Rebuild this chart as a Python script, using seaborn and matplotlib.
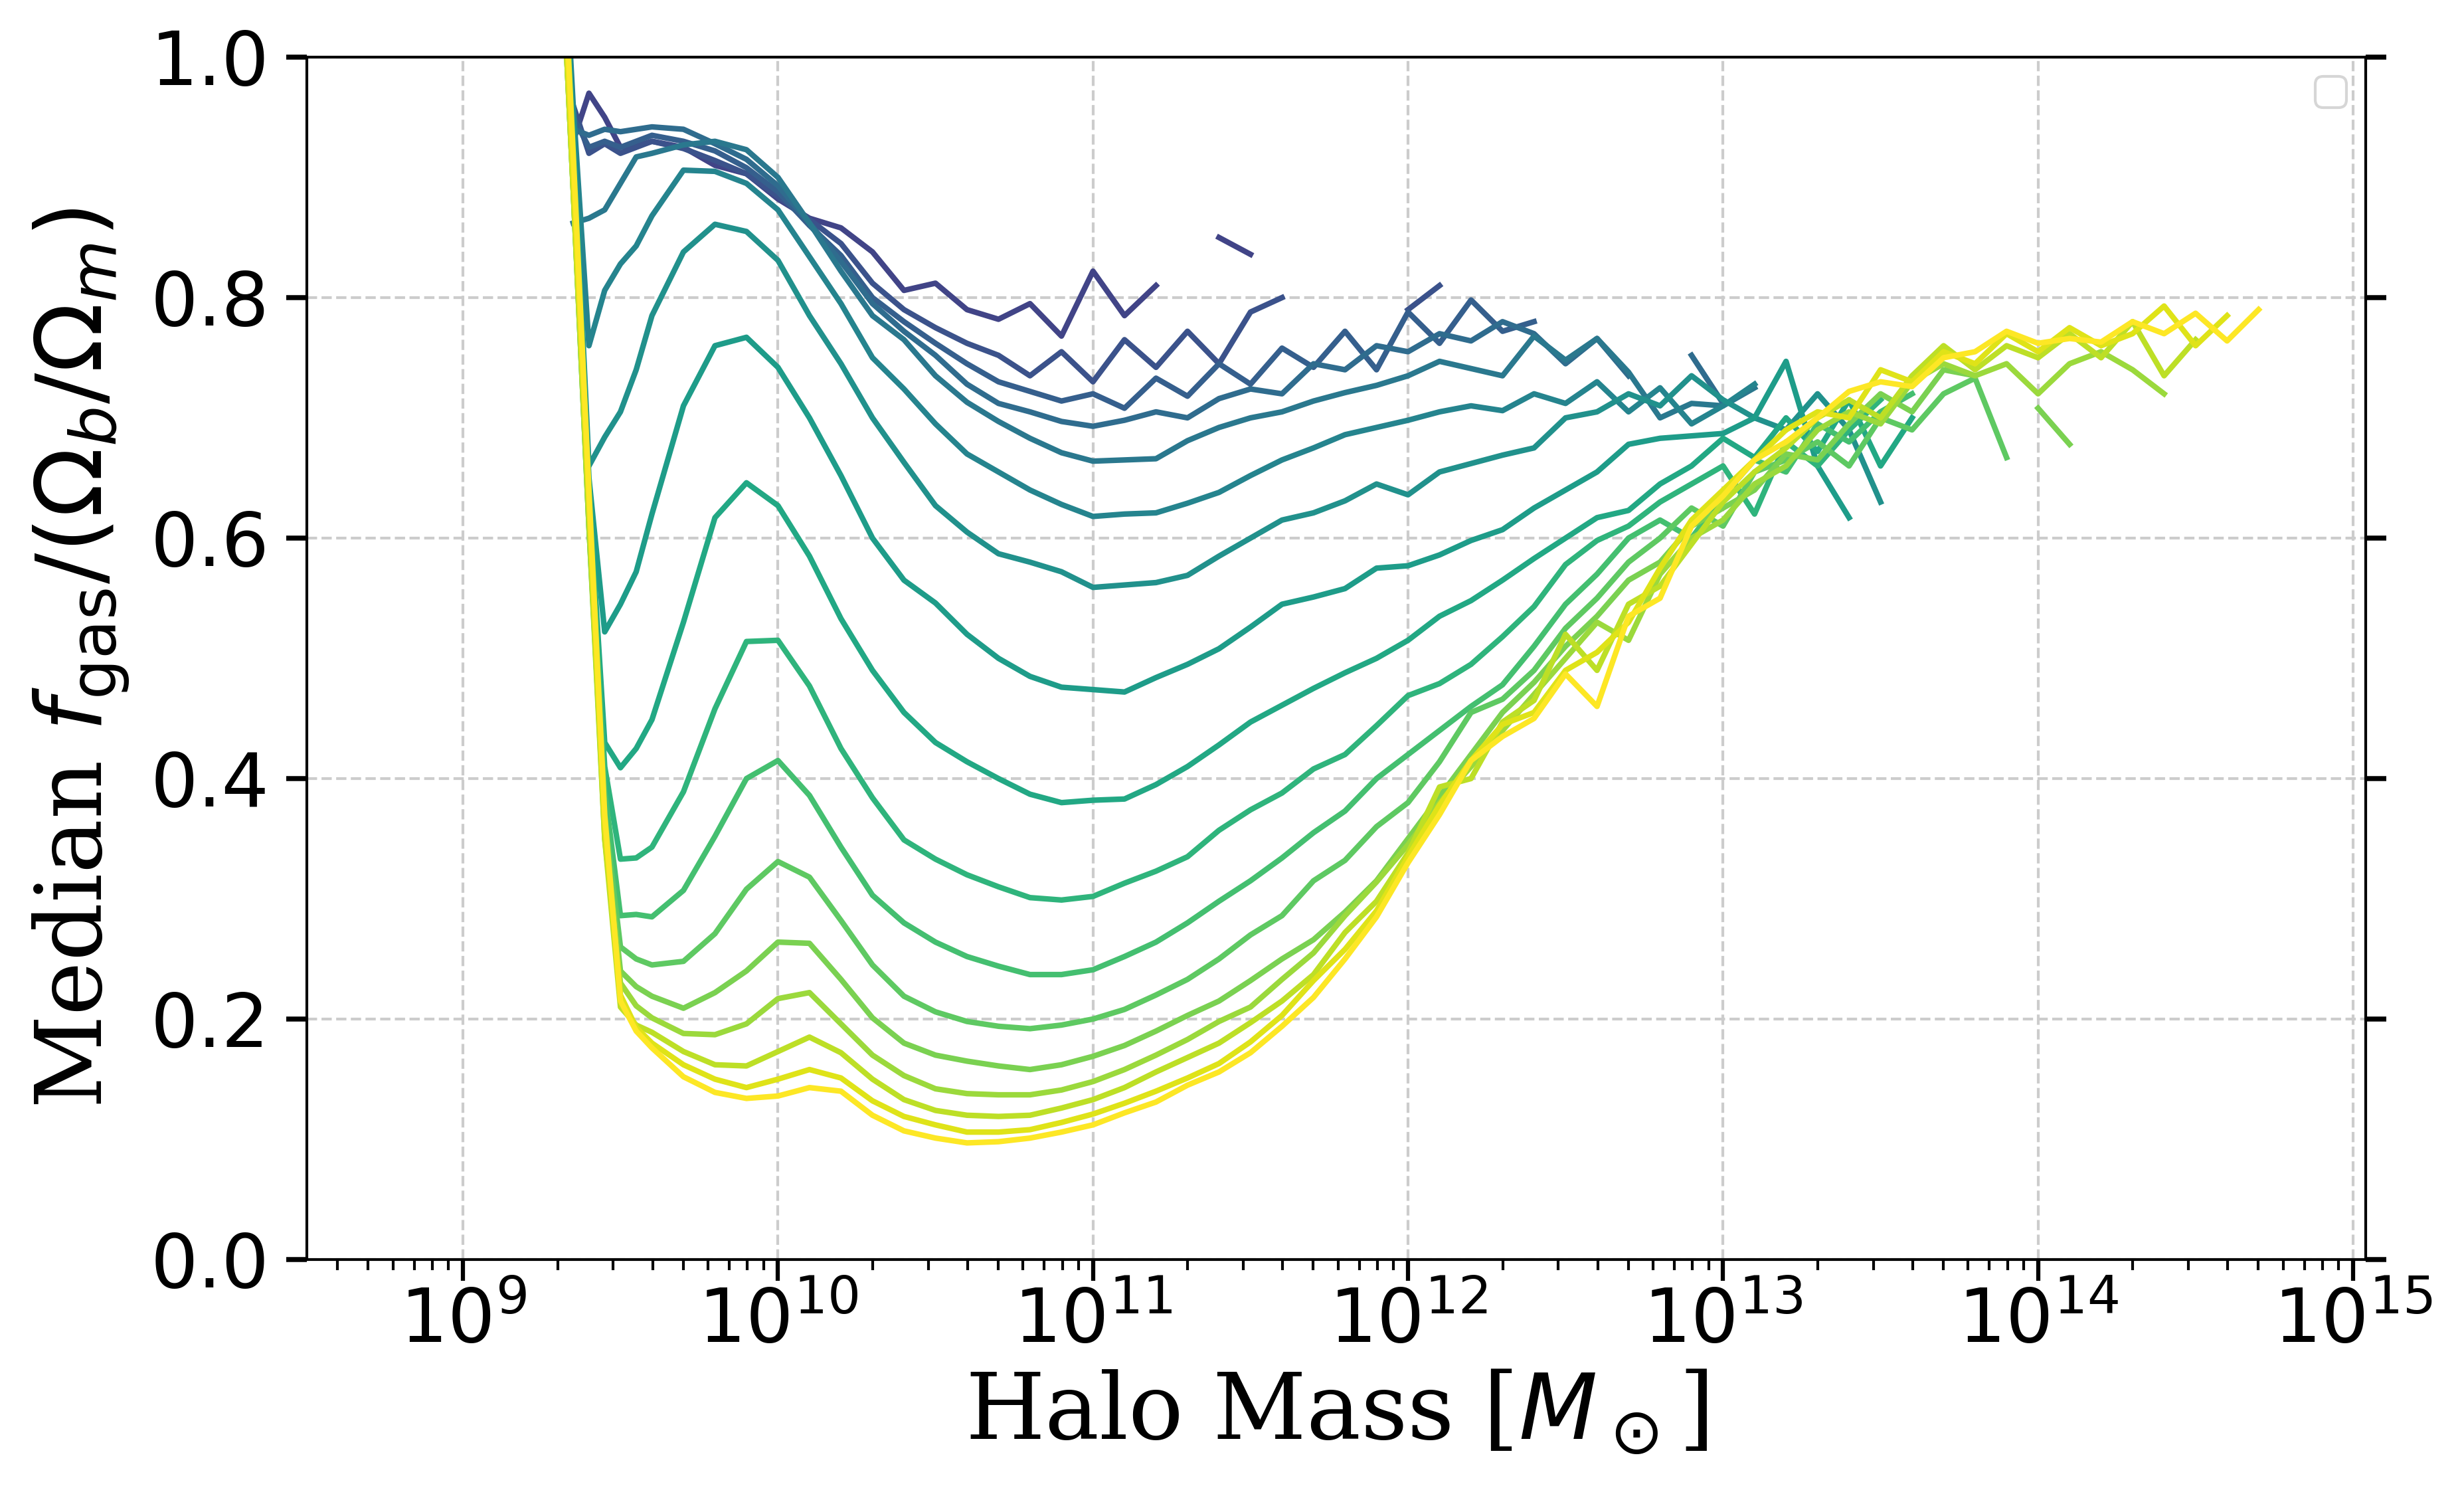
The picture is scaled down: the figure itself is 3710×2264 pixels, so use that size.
import numpy as np
import pandas as pd
import matplotlib
matplotlib.use("Agg")
import matplotlib.pyplot as plt
import seaborn as sns

nan = np.nan

# log10 of halo mass bins [Msun]
log_mass = [9.25, 9.30, 9.35, 9.40, 9.45, 9.50, 9.55, 9.60,
            9.7, 9.8, 9.9, 10.0, 10.1, 10.2, 10.3, 10.4, 10.5, 10.6, 10.7,
            10.8, 10.9, 11.0, 11.1, 11.2, 11.3, 11.4, 11.5, 11.6, 11.7, 11.8, 11.9,
            12.0, 12.1, 12.2, 12.3, 12.4, 12.5, 12.6, 12.7, 12.8, 12.9,
            13.0, 13.1, 13.2, 13.3, 13.4, 13.5, 13.6, 13.7, 13.8, 13.9,
            14.0, 14.1, 14.2, 14.3, 14.4, 14.5, 14.6, 14.7]

# median f_gas / (Omega_b/Omega_m), one list per snapshot (yellow -> dark)
f_01 = [1.65, 1.19, 0.92, 0.64, 0.37, 0.215, 0.19, 0.176,
        0.152, 0.139, 0.134, 0.136, 0.143, 0.140, 0.120, 0.107, 0.101, 0.097, 0.098,
        0.101, 0.106, 0.112, 0.122, 0.131, 0.145, 0.156, 0.172, 0.194, 0.218, 0.25, 0.285,
        0.33, 0.37, 0.415, 0.435, 0.45, 0.487, 0.46, 0.535, 0.55, 0.61,
        0.635, 0.665, 0.68, 0.70, 0.722, 0.73, 0.726, 0.75, 0.755, 0.772,
        0.762, 0.766, 0.763, 0.78, 0.77, 0.787, 0.764, 0.79]
f_02 = [1.62, 1.17, 0.90, 0.63, 0.36, 0.22, 0.193, 0.18,
        0.162, 0.15, 0.143, 0.150, 0.158, 0.151, 0.132, 0.119, 0.112, 0.106, 0.106,
        0.108, 0.114, 0.121, 0.130, 0.140, 0.151, 0.163, 0.181, 0.203, 0.232, 0.258, 0.29,
        0.335, 0.378, 0.415, 0.445, 0.455, 0.49, 0.505, 0.53, 0.575, 0.615,
        0.64, 0.665, 0.69, 0.705, 0.70, 0.74, 0.73, 0.755, 0.745, 0.77,
        0.755, 0.775, 0.76, 0.77, 0.793, 0.76, 0.785, nan]
f_03 = [1.6, 1.16, 0.89, 0.62, 0.35, 0.21, 0.195, 0.189,
        0.173, 0.162, 0.161, 0.173, 0.185, 0.172, 0.15, 0.133, 0.124, 0.12, 0.119,
        0.12, 0.126, 0.133, 0.143, 0.156, 0.168, 0.18, 0.197, 0.215, 0.237, 0.272, 0.298,
        0.338, 0.393, 0.40, 0.447, 0.465, 0.52, 0.49, 0.545, 0.56, 0.595,
        0.63, 0.655, 0.675, 0.70, 0.715, 0.70, 0.735, 0.76, 0.74, 0.76,
        0.75, 0.77, 0.75, 0.78, 0.735, 0.765, nan, nan]
f_04 = [1.6, 1.16, 0.89, 0.61, 0.35, 0.23, 0.211, 0.201,
        0.188, 0.187, 0.196, 0.217, 0.222, 0.196, 0.170, 0.153, 0.142, 0.138, 0.137,
        0.137, 0.141, 0.148, 0.158, 0.170, 0.183, 0.198, 0.21, 0.233, 0.255, 0.286, 0.314,
        0.345, 0.38, 0.41, 0.44, 0.47, 0.50, 0.53, 0.515, 0.57, 0.60,
        0.615, 0.645, 0.66, 0.69, 0.705, 0.695, 0.73, 0.745, 0.735, 0.745,
        0.72, 0.745, 0.755, 0.74, 0.72, nan, nan, nan]
f_05 = [1.6, 1.16, 0.89, 0.61, 0.36, 0.24, 0.227, 0.219,
        0.209, 0.222, 0.240, 0.264, 0.263, 0.233, 0.201, 0.18, 0.17, 0.165, 0.161,
        0.158, 0.162, 0.169, 0.178, 0.19, 0.203, 0.215, 0.232, 0.25, 0.266, 0.289, 0.315,
        0.35, 0.385, 0.42, 0.455, 0.48, 0.51, 0.535, 0.565, 0.58, 0.61,
        0.625, 0.64, 0.67, 0.665, 0.695, 0.72, 0.705, 0.74, 0.735, nan,
        0.708, 0.678, nan, nan, nan, nan, nan, nan]
f_06 = [1.6, 1.16, 0.89, 0.61, 0.37, 0.26, 0.25, 0.245,
        0.248, 0.271, 0.308, 0.331, 0.318, 0.282, 0.245, 0.219, 0.206, 0.198, 0.194,
        0.192, 0.195, 0.20, 0.208, 0.22, 0.233, 0.25, 0.27, 0.286, 0.315, 0.332, 0.36,
        0.38, 0.414, 0.455, 0.466, 0.49, 0.525, 0.55, 0.58, 0.60, 0.625,
        0.61, 0.655, 0.665, 0.68, 0.66, 0.70, 0.69, 0.72, 0.733, 0.667,
        nan, nan, nan, nan, nan, nan, nan, nan]
f_07 = [1.6, 1.17, 0.90, 0.62, 0.39, 0.286, 0.287, 0.285,
        0.307, 0.352, 0.40, 0.415, 0.386, 0.343, 0.303, 0.28, 0.264, 0.252, 0.244,
        0.237, 0.237, 0.241, 0.252, 0.264, 0.28, 0.298, 0.315, 0.334, 0.355, 0.373, 0.40,
        0.42, 0.44, 0.46, 0.478, 0.51, 0.545, 0.57, 0.60, 0.615, 0.60,
        0.635, 0.665, 0.655, 0.695, 0.68, 0.705, 0.72, nan, nan, nan,
        nan, nan, nan, nan, nan, nan, nan, nan]
f_08 = [1.6, 1.18, 0.91, 0.63, 0.41, 0.333, 0.334, 0.343,
        0.389, 0.458, 0.514, 0.515, 0.477, 0.425, 0.384, 0.349, 0.333, 0.32, 0.31,
        0.301, 0.299, 0.302, 0.313, 0.323, 0.335, 0.357, 0.374, 0.388, 0.408, 0.42, 0.444,
        0.469, 0.479, 0.495, 0.518, 0.543, 0.578, 0.598, 0.61, 0.63, 0.645,
        0.66, 0.62, 0.68, 0.66, 0.69, 0.715, nan, nan, nan, nan,
        nan, nan, nan, nan, nan, nan, nan, nan]
f_09 = [1.6, 1.19, 0.92, 0.64, 0.43, 0.409, 0.425, 0.449,
        0.53, 0.617, 0.646, 0.627, 0.585, 0.533, 0.49, 0.455, 0.43, 0.414, 0.40,
        0.387, 0.38, 0.382, 0.383, 0.395, 0.41, 0.428, 0.447, 0.461, 0.475, 0.488, 0.50,
        0.515, 0.535, 0.548, 0.565, 0.583, 0.60, 0.617, 0.623, 0.645, 0.66,
        0.683, 0.667, 0.70, 0.672, 0.715, 0.66, 0.70, nan, nan, nan,
        nan, nan, nan, nan, nan, nan, nan, nan]
f_10 = [1.62, 1.2, 0.93, 0.65, 0.522, 0.545, 0.572, 0.62,
        0.71, 0.76, 0.767, 0.742, 0.70, 0.652, 0.60, 0.565, 0.546, 0.52, 0.50,
        0.485, 0.476, 0.474, 0.472, 0.484, 0.495, 0.508, 0.526, 0.545, 0.551, 0.558, 0.575,
        0.577, 0.586, 0.598, 0.607, 0.625, 0.64, 0.655, 0.678, 0.683, 0.685,
        0.687, 0.70, 0.747, 0.66, 0.617, nan, nan, nan, nan, nan,
        nan, nan, nan, nan, nan, nan, nan, nan]
f_11 = [1.62, 1.2, 0.94, 0.66, 0.684, 0.705, 0.74, 0.785,
        0.838, 0.861, 0.855, 0.831, 0.785, 0.745, 0.70, 0.663, 0.627, 0.605, 0.587,
        0.58, 0.572, 0.559, 0.561, 0.563, 0.569, 0.585, 0.60, 0.615, 0.621, 0.631, 0.645,
        0.636, 0.655, 0.662, 0.669, 0.675, 0.70, 0.705, 0.72, 0.71, 0.735,
        0.715, 0.70, 0.69, 0.72, 0.69, 0.63, nan, nan, nan, nan,
        nan, nan, nan, nan, nan, nan, nan, nan]
f_12 = [1.62, 1.2, 0.96, 0.76, 0.806, 0.828, 0.843, 0.868,
        0.906, 0.905, 0.895, 0.873, 0.834, 0.795, 0.75, 0.724, 0.695, 0.67, 0.655,
        0.64, 0.628, 0.618, 0.62, 0.621, 0.629, 0.638, 0.652, 0.665, 0.675, 0.686, 0.692,
        0.698, 0.705, 0.71, 0.706, 0.72, 0.712, 0.73, 0.705, 0.725, 0.695,
        0.71, 0.728, nan, nan, nan, nan, nan, nan, nan, nan,
        nan, nan, nan, nan, nan, nan, nan, nan]
f_13 = [nan, nan, 0.862, 0.866, 0.873, 0.895, 0.917, 0.92,
        0.927, 0.93, 0.923, 0.90, 0.862, 0.822, 0.785, 0.765, 0.735, 0.713, 0.697,
        0.683, 0.671, 0.664, 0.665, 0.666, 0.681, 0.692, 0.70, 0.705, 0.714, 0.721, 0.727,
        0.735, 0.747, 0.741, 0.735, 0.768, 0.748, 0.766, 0.738, 0.70, 0.712,
        0.71, 0.725, nan, nan, nan, nan, nan, nan, nan, nan,
        nan, nan, nan, nan, nan, nan, nan, nan]
f_14 = [nan, nan, 0.94, 0.935, 0.94, 0.938, 0.94, 0.942,
        0.94, 0.928, 0.915, 0.893, 0.862, 0.83, 0.795, 0.772, 0.752, 0.728, 0.712,
        0.705, 0.697, 0.693, 0.698, 0.705, 0.70, 0.716, 0.724, 0.72, 0.745, 0.74, 0.76,
        0.755, 0.77, 0.764, 0.78, 0.77, 0.745, 0.766, 0.735, nan, 0.752,
        0.712, nan, nan, nan, nan, nan, nan, nan, nan, nan,
        nan, nan, nan, nan, nan, nan, nan, nan]
f_15 = [nan, nan, 0.95, 0.925, 0.93, 0.925, 0.93, 0.935,
        0.93, 0.922, 0.908, 0.888, 0.86, 0.835, 0.80, 0.78, 0.762, 0.745, 0.73,
        0.722, 0.714, 0.72, 0.708, 0.733, 0.718, 0.745, 0.728, 0.758, 0.742, 0.772, 0.74,
        0.788, 0.762, 0.798, 0.772, 0.78, nan, nan, nan, nan, nan,
        nan, nan, nan, nan, nan, nan, nan, nan, nan, nan,
        nan, nan, nan, nan, nan, nan, nan, nan]
f_16 = [nan, nan, 0.96, 0.92, 0.928, 0.92, 0.925, 0.93,
        0.924, 0.914, 0.903, 0.884, 0.865, 0.845, 0.812, 0.79, 0.775, 0.762, 0.752,
        0.735, 0.755, 0.73, 0.765, 0.742, 0.772, 0.745, 0.788, 0.80, nan, nan, nan,
        0.79, 0.81, nan, nan, nan, nan, nan, nan, nan, nan,
        nan, nan, nan, nan, nan, nan, nan, nan, nan, nan,
        nan, nan, nan, nan, nan, nan, nan, nan]
f_17 = [nan, nan, 0.93, 0.97, 0.95, 0.925, 0.926, 0.93,
        0.925, 0.91, 0.903, 0.882, 0.866, 0.858, 0.838, 0.806, 0.812, 0.79, 0.782,
        0.795, 0.768, 0.822, 0.785, 0.81, nan, 0.85, 0.836, nan, nan, nan, nan,
        nan, nan, nan, nan, nan, nan, nan, nan, nan, nan,
        nan, nan, nan, nan, nan, nan, nan, nan, nan, nan,
        nan, nan, nan, nan, nan, nan, nan, nan]

line_names = ["s01", "s02", "s03", "s04", "s05", "s06", "s07", "s08", "s09",
              "s10", "s11", "s12", "s13", "s14", "s15", "s16", "s17"]
line_values = [f_01, f_02, f_03, f_04, f_05, f_06, f_07, f_08, f_09,
               f_10, f_11, f_12, f_13, f_14, f_15, f_16, f_17]
# viridis position of each line's colour (style)
cmap_pos = [1.0, 0.95, 0.9, 0.85, 0.8, 0.75, 0.7, 0.65, 0.6,
            0.55, 0.5, 0.45, 0.4, 0.35, 0.3, 0.25, 0.2]

rows = []
for name, vals in zip(line_names, line_values):
    seg = 0
    gap = True
    for lm, v in zip(log_mass, vals):
        if np.isnan(v):
            gap = True
            continue
        if gap:
            seg += 1
            gap = False
        rows.append((name, f"{name}_{seg}", 10.0 ** lm, v))
df = pd.DataFrame(rows, columns=["line", "seg", "mass", "fgas"])

cmap = plt.get_cmap("viridis")
palette = {n: cmap(c) for n, c in zip(line_names, cmap_pos)}

fig = plt.figure(figsize=(3711 / 300, 2264 / 300), dpi=300)
ax = fig.add_axes([462 / 3711, 368 / 2264, 3100 / 3711, 1810 / 2264])

sns.lineplot(data=df, x="mass", y="fgas", hue="line", units="seg",
             estimator=None, sort=False, hue_order=line_names[::-1],
             palette=palette, linewidth=2.0, legend=False, ax=ax)

ax.set_xscale("log")
ax.set_xlim(10 ** 8.5045, 10 ** 15.04)
ax.set_ylim(0, 1)
ax.set_yticks([0.0, 0.2, 0.4, 0.6, 0.8, 1.0])

ax.grid(True, which="major", linestyle="--", color="#cccccc", linewidth=1.0)
ax.set_axisbelow(True)
for sp in ax.spines.values():
    sp.set_linewidth(1.0)

ax.tick_params(axis="both", which="major", labelsize=27)
ax.tick_params(axis="y", which="major", length=7.5, width=1.8,
               left=True, right=True, labelright=False, direction="out", pad=6)
ax.tick_params(axis="x", which="major", length=7.7, width=1.5, pad=2)
ax.tick_params(axis="x", which="minor", length=3.8, width=1.0)

ax.set_xlabel(r"Halo Mass [$M_\odot$]", fontsize=33, family="DejaVu Serif", labelpad=4)
ax.set_ylabel(r"Median $f_{\rm gas}/(\Omega_b/\Omega_m)$", fontsize=33,
              family="DejaVu Serif", labelpad=7)

ax.legend(handles=[], loc="upper right", fontsize=14)

fig.savefig("out.png", dpi=300)
